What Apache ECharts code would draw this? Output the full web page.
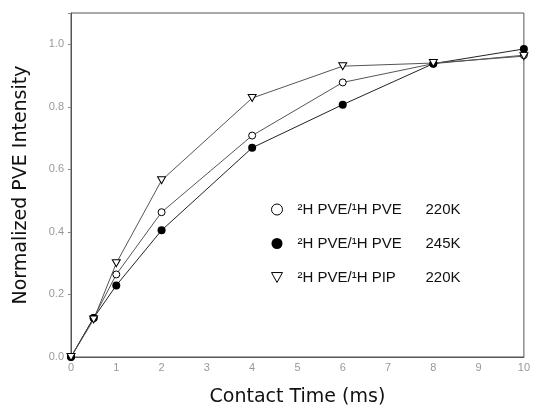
<!DOCTYPE html>
<html>
<head>
<meta charset="utf-8">
<script src="https://cdn.jsdelivr.net/npm/echarts@6/dist/echarts.min.js"></script>
<style>
  html, body { margin: 0; padding: 0; background: #fff; }
  #chart { width: 533px; height: 413px; }
</style>
</head>
<body>
<div id="chart"></div>
<script>
// Cross-polarization build-up curves, normalized PVE intensity vs contact time.

const TIMES = [0, 0.5, 1, 2, 4, 6, 8, 10];
const PVE_220 = [0, 0.125, 0.264, 0.463, 0.708, 0.878, 0.938, 0.965];
const PVE_245 = [0, 0.125, 0.229, 0.405, 0.669, 0.807, 0.938, 0.985];
const PIP_220 = [0, 0.12, 0.30, 0.565, 0.828, 0.93, 0.94, 0.962];

const SERIES_NAMES = ["²H PVE/¹H PVE", "²H PVE/¹H PVE ", "²H PVE/¹H PIP"];
const TEMPS = ["220K", "245K", "220K"];

const TRI_DOWN = "path://M0,0 L10,0 L5,9 Z";
const LABEL_FONT = "'Liberation Sans', Arial, sans-serif";
const TITLE_FONT = "'DejaVu Sans', sans-serif";

const pairs = (ys) => TIMES.map((t, i) => [t, ys[i]]);

const chart = echarts.init(document.getElementById("chart"), null, { renderer: "canvas" });

const lineSeries = (name, ys, extra) => ({
  name,
  type: "line",
  data: pairs(ys),
  symbolSize: 7,
  lineStyle: { color: "#444", width: 1 },
  animation: false,
  ...extra,
});

chart.setOption({
  backgroundColor: "#fff",
  animation: false,
  grid: {
    left: 71, right: 3, top: 13, bottom: 56,
    show: true, borderColor: "#555", borderWidth: 1,
  },
  xAxis: {
    type: "value",
    min: 0, max: 10, interval: 1,
    name: "Contact Time (ms)",
    nameLocation: "middle",
    nameGap: 31,
    nameTextStyle: { fontFamily: TITLE_FONT, fontSize: 19, color: "#111" },
    axisLine: { show: true, lineStyle: { color: "#555" } },
    axisTick: { show: false },
    splitLine: { show: false },
    axisLabel: { color: "#999", fontFamily: LABEL_FONT, fontSize: 11, margin: 5 },
  },
  yAxis: {
    type: "value",
    min: 0, max: 1.1, interval: 0.2,
    name: "Normalized PVE Intensity",
    nameLocation: "middle",
    nameGap: 40,
    nameTextStyle: { fontFamily: TITLE_FONT, fontSize: 19, color: "#111" },
    axisLine: { show: true, lineStyle: { color: "#555" } },
    axisTick: { show: true, length: 3, lineStyle: { color: "#888" } },
    splitLine: { show: false },
    axisLabel: {
      color: "#999", fontFamily: LABEL_FONT, fontSize: 11, margin: 7,
      formatter: (v) => (v > 1.05 ? "" : v.toFixed(1)),
    },
  },
  legend: {
    orient: "vertical",
    left: 266,
    top: 197,
    itemGap: 19,
    itemWidth: 11,
    itemHeight: 11,
    selectedMode: false,
    data: [
      { name: SERIES_NAMES[0], icon: "circle", itemStyle: { color: "#fff", borderColor: "#000", borderWidth: 1 } },
      { name: SERIES_NAMES[1], icon: "circle", itemStyle: { color: "#000", borderWidth: 0 } },
      { name: SERIES_NAMES[2], icon: TRI_DOWN, itemStyle: { color: "#fff", borderColor: "#000", borderWidth: 1 } },
    ],
    formatter: (name) => {
      const i = SERIES_NAMES.indexOf(name);
      return `{a|${name.trim()}}{b|${TEMPS[i]}}`;
    },
    textStyle: {
      rich: {
        a: { fontFamily: LABEL_FONT, fontSize: 15, color: "#111", width: 128, padding: [0, 0, 0, 10] },
        b: { fontFamily: LABEL_FONT, fontSize: 15, color: "#111" },
      },
    },
  },
  series: [
    lineSeries(SERIES_NAMES[0], PVE_220, {
      symbol: "circle",
      itemStyle: { color: "#fff", borderColor: "#000", borderWidth: 1 },
      lineStyle: { color: "#555", width: 1 },
    }),
    lineSeries(SERIES_NAMES[1], PVE_245, {
      symbol: "circle",
      symbolSize: 8,
      itemStyle: { color: "#000", borderColor: "#000", borderWidth: 0 },
      lineStyle: { color: "#222", width: 1 },
    }),
    lineSeries(SERIES_NAMES[2], PIP_220, {
      symbol: TRI_DOWN,
      symbolSize: [8, 7],
      itemStyle: { color: "#fff", borderColor: "#000", borderWidth: 1 },
      lineStyle: { color: "#555", width: 1 },
    }),
  ],
});
</script>
</body>
</html>
